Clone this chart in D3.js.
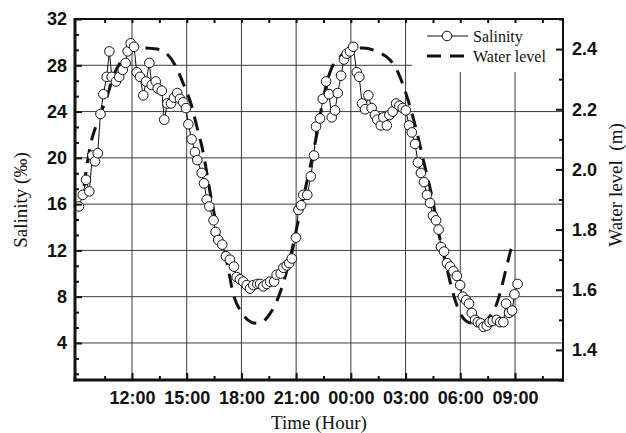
<!DOCTYPE html>
<html>
<head>
<meta charset="utf-8">
<script src="https://cdnjs.cloudflare.com/ajax/libs/d3/7.8.5/d3.min.js"></script>
<style>
  body { margin: 0; background: #fff; }
  .tick-label text { font-family: "Liberation Sans", Arial, sans-serif; font-weight: bold; font-size: 18px; fill: #111; }
  .title { font-family: "Liberation Serif", "Times New Roman", serif; font-size: 19px; fill: #111; }
  .legend text { font-family: "Liberation Serif", "Times New Roman", serif; font-size: 16px; fill: #111; }
</style>
</head>
<body>
<div id="chart"></div>
<script>
// Salinity samples: time in hours counted from midnight of the first day, salinity in ‰
var salinityTime = [
  9.09, 9.30, 9.48, 9.66, 9.83, 9.97, 10.12, 10.27, 10.43, 10.61, 10.76, 10.89, 11.12, 11.30, 11.49, 11.65,
  11.76, 11.93, 12.11, 12.26, 12.44, 12.62, 12.77, 12.95, 13.08, 13.30, 13.41, 13.63, 13.77, 13.94, 14.14,
  14.30, 14.48, 14.63, 14.81, 14.96, 15.09, 15.27, 15.45, 15.58, 15.82, 15.95, 16.10, 16.24, 16.47, 16.58,
  16.73, 16.95, 17.15, 17.37, 17.59, 17.74, 17.92, 18.10, 18.29, 18.47, 18.65, 18.87, 19.02, 19.20, 19.39,
  19.57, 19.79, 19.93, 20.15, 20.30, 20.48, 20.62, 20.76, 20.99, 21.12, 21.27, 21.39, 21.61, 21.80, 21.98,
  22.09, 22.31, 22.46, 22.64, 22.80, 22.95, 23.13, 23.28, 23.46, 23.62, 23.77, 23.95, 24.13, 24.32, 24.46,
  24.61, 24.78, 24.96, 25.14, 25.32, 25.45, 25.64, 25.78, 25.97, 26.11, 26.29, 26.48, 26.66, 26.84, 27.01,
  27.19, 27.34, 27.52, 27.68, 27.84, 28.01, 28.17, 28.34, 28.50, 28.67, 28.81, 28.94, 29.11, 29.27, 29.44,
  29.62, 29.81, 29.99, 30.14, 30.32, 30.48, 30.63, 30.81, 30.96, 31.12, 31.27, 31.45, 31.60, 31.78, 32.00,
  32.18, 32.36, 32.51, 32.67, 32.84, 32.97, 33.14
];
var salinityValue = [
  15.8, 16.8, 18.1, 17.1, 20.2, 19.7, 20.4, 23.8, 25.5, 27.0, 29.2, 27.0, 26.6, 27.0, 27.6, 28.2,
  29.2, 29.9, 29.6, 27.4, 27.0, 25.4, 26.6, 28.2, 26.3, 26.6, 26.0, 25.8, 23.3, 24.7, 24.7,
  25.2, 25.6, 25.1, 24.8, 24.3, 22.9, 21.6, 20.5, 19.8, 18.7, 17.8, 16.4, 15.8, 14.6, 13.6,
  12.9, 12.5, 11.5, 11.2, 10.6, 9.7, 9.5, 9.3, 9.0, 8.7, 9.0, 9.1, 9.1, 8.9, 9.1,
  9.3, 9.3, 9.9, 10.0, 10.5, 10.7, 10.9, 11.3, 13.1, 15.5, 15.9, 16.8, 16.8, 18.4, 20.2,
  22.7, 23.4, 25.1, 26.6, 25.5, 23.5, 24.1, 25.6, 27.1, 28.5, 29.0, 29.2, 29.6, 27.4, 27.0,
  24.7, 24.2, 25.4, 24.3, 23.7, 23.3, 22.8, 23.5, 22.8, 23.7, 24.0, 24.7, 24.5, 24.3, 24.1,
  22.8, 22.2, 21.2, 19.6, 18.7, 17.9, 16.8, 16.1, 15.0, 14.6, 13.8, 12.3, 11.9, 10.9, 10.6,
  10.2, 9.8, 9.0, 8.0, 7.7, 7.4, 6.6, 6.0, 5.8, 5.7, 5.4, 5.5, 5.8, 5.9, 6.0,
  5.8, 5.8, 7.4, 6.6, 6.8, 8.2, 9.1
];

// Water level (m), same time base
var levelTime = [
  9.37, 9.70, 10.14, 10.63, 10.96, 11.45, 12.00, 12.60, 13.37, 13.92, 14.36, 14.80, 15.29, 15.56, 15.84,
  16.39, 16.83, 17.21, 17.54, 18.03, 18.36, 18.74, 19.13, 19.46, 19.84, 20.11, 20.39, 20.77, 21.10, 21.49,
  21.87, 22.20, 22.47, 22.86, 23.40, 23.95, 24.67, 25.49, 26.15, 26.53, 26.86, 27.25, 27.63, 28.01, 28.45,
  28.78, 29.16, 29.60, 29.98, 30.26, 30.64, 30.97, 31.36, 31.63, 32.01, 32.18, 32.45, 32.84
];
var levelValue = [
  1.945, 2.074, 2.164, 2.241, 2.307, 2.364, 2.400, 2.404, 2.400, 2.384, 2.347, 2.287, 2.207, 2.141, 2.074,
  1.888, 1.765, 1.689, 1.589, 1.523, 1.499, 1.489, 1.492, 1.512, 1.549, 1.589, 1.642, 1.732, 1.825, 1.932,
  2.038, 2.138, 2.231, 2.324, 2.374, 2.397, 2.404, 2.390, 2.364, 2.330, 2.281, 2.207, 2.121, 2.021, 1.908,
  1.799, 1.699, 1.589, 1.523, 1.499, 1.489, 1.489, 1.496, 1.512, 1.556, 1.589, 1.655, 1.752
];

// Tick positions and labels
var timeTicks = [12, 15, 18, 21, 24, 27, 30, 33];
var timeLabels = ['12:00', '15:00', '18:00', '21:00', '00:00', '03:00', '06:00', '09:00'];
var timeMinorTicks = [10.5, 13.5, 16.5, 19.5, 22.5, 25.5, 28.5, 31.5, 34.5];
var salinityTicks = [4, 8, 12, 16, 20, 24, 28, 32];
var salinityMinorTicks = [4 / 3, 8 / 3, 16 / 3, 20 / 3, 28 / 3, 32 / 3, 40 / 3, 44 / 3, 52 / 3, 56 / 3,
  64 / 3, 68 / 3, 76 / 3, 80 / 3, 88 / 3, 92 / 3];
var levelTicks = [1.4, 1.6, 1.8, 2.0, 2.2, 2.4];
var levelMinorTicks = [1.3, 1.5, 1.7, 1.9, 2.1, 2.3, 2.5];

var salinity = salinityTime.map(function (t, i) { return { t: t, v: salinityValue[i] }; });
var level = levelTime.map(function (t, i) { return { t: t, v: levelValue[i] }; });

// Plot area
var dim = { width: 626, height: 433, left: 75, right: 563, top: 19, bottom: 380 };

var x = d3.scaleLinear().domain([8.875, 35.63]).range([dim.left, dim.right]);
var ySal = d3.scaleLinear().domain([0.8, 32]).range([dim.bottom, dim.top]);
var yLev = d3.scaleLinear().domain([1.3, 2.5]).range([dim.bottom, dim.top]);

var svg = d3.select('#chart').append('svg')
  .attr('width', dim.width)
  .attr('height', dim.height);

// Grid lines
var grid = svg.append('g').attr('stroke', '#3a3a3a').attr('stroke-width', 1);
grid.selectAll('.vgrid')
  .data(timeTicks)
  .enter().append('line')
  .attr('x1', function (d) { return x(d); })
  .attr('x2', function (d) { return x(d); })
  .attr('y1', dim.top)
  .attr('y2', dim.bottom);
grid.selectAll('.hgrid')
  .data(salinityTicks.slice(0, -1))
  .enter().append('line')
  .attr('x1', dim.left)
  .attr('x2', dim.right)
  .attr('y1', function (d) { return ySal(d); })
  .attr('y2', function (d) { return ySal(d); });

// Legend area is kept free of grid lines
svg.append('rect')
  .attr('x', 412).attr('y', dim.top + 1)
  .attr('width', dim.right - 413).attr('height', 52)
  .attr('fill', '#fff');

// Water level (dashed)
var levelLine = d3.line()
  .x(function (d) { return x(d.t); })
  .y(function (d) { return yLev(d.v); })
  .curve(d3.curveMonotoneX);

svg.append('path')
  .datum(level)
  .attr('d', levelLine)
  .attr('fill', 'none')
  .attr('stroke', '#111')
  .attr('stroke-width', 3)
  .attr('stroke-dasharray', '14,9');

// Salinity line with open circles
var salLine = d3.line()
  .x(function (d) { return x(d.t); })
  .y(function (d) { return ySal(d.v); });

svg.append('path')
  .datum(salinity)
  .attr('d', salLine)
  .attr('fill', 'none')
  .attr('stroke', '#111')
  .attr('stroke-width', 1);

svg.append('g').selectAll('circle')
  .data(salinity)
  .enter().append('circle')
  .attr('cx', function (d) { return x(d.t); })
  .attr('cy', function (d) { return ySal(d.v); })
  .attr('r', 4.8)
  .attr('fill', '#fff')
  .attr('stroke', '#111')
  .attr('stroke-width', 1);

// Axes: ticks point into the plot
function styleAxis(g) {
  g.select('.domain').remove();
  g.selectAll('.tick line').attr('stroke', '#111').attr('stroke-width', 2);
}

svg.append('g')
  .attr('class', 'tick-label')
  .attr('transform', 'translate(0,' + dim.bottom + ')')
  .call(d3.axisBottom(x).tickValues(timeTicks).tickSize(-7).tickPadding(11)
    .tickFormat(function (d, i) { return timeLabels[i]; }))
  .call(styleAxis);
svg.append('g')
  .attr('transform', 'translate(0,' + dim.bottom + ')')
  .call(d3.axisBottom(x).tickValues(timeMinorTicks).tickSize(-4).tickFormat(''))
  .call(styleAxis);
svg.append('g')
  .attr('transform', 'translate(0,' + dim.top + ')')
  .call(d3.axisTop(x).tickValues(timeTicks.concat(timeMinorTicks)).tickSize(-4).tickFormat(''))
  .call(styleAxis);

svg.append('g')
  .attr('class', 'tick-label')
  .attr('transform', 'translate(' + dim.left + ',0)')
  .call(d3.axisLeft(ySal).tickValues(salinityTicks).tickSize(-7).tickPadding(8))
  .call(styleAxis);
svg.append('g')
  .attr('transform', 'translate(' + dim.left + ',0)')
  .call(d3.axisLeft(ySal).tickValues(salinityMinorTicks).tickSize(-4).tickFormat(''))
  .call(styleAxis);

svg.append('g')
  .attr('class', 'tick-label')
  .attr('transform', 'translate(' + dim.right + ',0)')
  .call(d3.axisRight(yLev).tickValues(levelTicks).tickSize(-7).tickPadding(9).tickFormat(d3.format('.1f')))
  .call(styleAxis);
svg.append('g')
  .attr('transform', 'translate(' + dim.right + ',0)')
  .call(d3.axisRight(yLev).tickValues(levelMinorTicks).tickSize(-4).tickFormat(''))
  .call(styleAxis);

// Frame: heavier on the left and bottom
var frame = svg.append('g').attr('stroke', '#111').attr('fill', 'none');
frame.append('line').attr('x1', dim.left).attr('x2', dim.left).attr('y1', dim.top - 1).attr('y2', dim.bottom + 1.5).attr('stroke-width', 3);
frame.append('line').attr('x1', dim.left - 1.5).attr('x2', dim.right + 1).attr('y1', dim.bottom).attr('y2', dim.bottom).attr('stroke-width', 3);
frame.append('line').attr('x1', dim.left).attr('x2', dim.right + 1).attr('y1', dim.top).attr('y2', dim.top).attr('stroke-width', 2);
frame.append('line').attr('x1', dim.right).attr('x2', dim.right).attr('y1', dim.top).attr('y2', dim.bottom + 1.5).attr('stroke-width', 2);

// Legend
var legend = svg.append('g').attr('class', 'legend');
legend.append('line')
  .attr('x1', 427).attr('x2', 468).attr('y1', 36).attr('y2', 36)
  .attr('stroke', '#111').attr('stroke-width', 1);
legend.append('circle')
  .attr('cx', 447).attr('cy', 36).attr('r', 4.8)
  .attr('fill', '#fff').attr('stroke', '#111');
legend.append('text').attr('x', 473).attr('y', 42).text('Salinity');
legend.append('line')
  .attr('x1', 427).attr('x2', 468).attr('y1', 56).attr('y2', 56)
  .attr('stroke', '#111').attr('stroke-width', 3).attr('stroke-dasharray', '14,9');
legend.append('text').attr('x', 473).attr('y', 62).text('Water level');

// Axis titles
svg.append('text')
  .attr('class', 'title')
  .attr('text-anchor', 'middle')
  .attr('transform', 'translate(27,200) rotate(-90)')
  .text('Salinity (‰)');
svg.append('text')
  .attr('class', 'title')
  .attr('text-anchor', 'middle')
  .attr('xml:space', 'preserve')
  .style('white-space', 'pre')
  .attr('transform', 'translate(622,185) rotate(-90)')
  .text('Water level  (m)');
svg.append('text')
  .attr('class', 'title')
  .attr('text-anchor', 'middle')
  .attr('x', 319).attr('y', 429)
  .text('Time (Hour)');
</script>
</body>
</html>
